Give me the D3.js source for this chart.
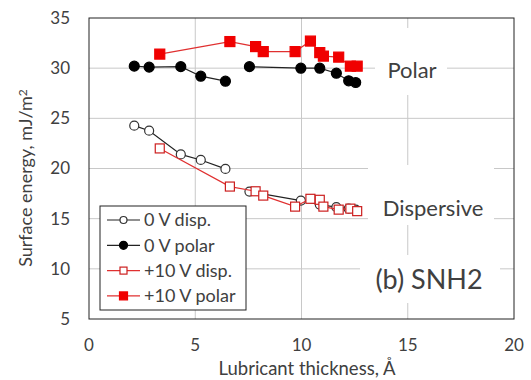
<!doctype html>
<html lang="en">
<head>
<meta charset="utf-8">
<title>Surface energy vs lubricant thickness</title>
<script src="https://cdn.jsdelivr.net/npm/d3@7"></script>
<style>
  body { margin: 0; background: #fff; }
  text { font-family: Lato, "Open Sans", sans-serif; fill: #404040; }
</style>
</head>
<body>
<script>
// thickness (Å); null breaks the line
var x0V = [2.13, 2.83, 4.32, 5.26, 6.42, null, 7.55, 9.97, 10.86, 11.64, 12.22, 12.55];
var disp0V = [24.27, 23.77, 21.4, 20.85, 19.96, null, 17.7, 16.8, 16.4, 16.15, 16.0, 15.9];
var polar0V = [30.2, 30.1, 30.15, 29.2, 28.7, null, 30.15, 30.0, 30.0, 29.5, 28.74, 28.57];

var x10V = [3.33, 6.63, 7.84, 8.2, 9.7, 10.42, 10.86, 11.03, 11.75, 12.3, 12.62];
var disp10V = [22.0, 18.2, 17.73, 17.3, 16.2, 16.98, 16.88, 16.2, 15.9, 16.0, 15.75];
var polar10V = [31.4, 32.65, 32.15, 31.65, 31.65, 32.7, 31.55, 31.2, 31.1, 30.2, 30.2];

var xTicks = [0, 5, 10, 15, 20];
var yTicks = [5, 10, 15, 20, 25, 30, 35];

var W = 531, H = 380;
var plot = {left: 89, right: 514, top: 18, bottom: 319};

var svg = d3.select("body").append("svg")
            .attr("width", W)
            .attr("height", H);

var x = d3.scaleLinear().domain([0, 20]).range([plot.left, plot.right]);
var y = d3.scaleLinear().domain([5, 35]).range([plot.bottom, plot.top]);

// gridlines
svg.append("g").selectAll("line")
   .data(yTicks.slice(1, -1))
   .enter().append("line")
   .attr("x1", plot.left).attr("x2", plot.right)
   .attr("y1", d => y(d)).attr("y2", d => y(d))
   .attr("stroke", "#c8c8c8");
svg.append("g").selectAll("line")
   .data(xTicks.slice(1, -1))
   .enter().append("line")
   .attr("y1", plot.top).attr("y2", plot.bottom)
   .attr("x1", d => x(d)).attr("x2", d => x(d))
   .attr("stroke", "#c8c8c8");

// white boxes behind annotation texts
var boxes = [[375, 28, 72, 67], [368, 165, 126, 60], [360, 255, 140, 48]];
svg.append("g").selectAll("rect")
   .data(boxes)
   .enter().append("rect")
   .attr("x", d => d[0]).attr("y", d => d[1])
   .attr("width", d => d[2]).attr("height", d => d[3])
   .attr("fill", "#fff");

// plot border
svg.append("rect")
   .attr("x", plot.left).attr("y", plot.top)
   .attr("width", plot.right - plot.left)
   .attr("height", plot.bottom - plot.top)
   .attr("fill", "none")
   .attr("stroke", "#222");

// tick labels
svg.append("g").selectAll("text")
   .data(yTicks)
   .enter().append("text")
   .attr("x", 70)
   .attr("y", d => y(d))
   .attr("dy", "0.35em")
   .attr("text-anchor", "end")
   .style("font-size", "17px")
   .text(d => d);
svg.append("g").selectAll("text")
   .data(xTicks)
   .enter().append("text")
   .attr("x", d => x(d))
   .attr("y", 345)
   .attr("dy", "0.35em")
   .attr("text-anchor", "middle")
   .style("font-size", "17px")
   .text(d => d);

// axis titles
svg.append("text")
   .attr("x", 307).attr("y", 369)
   .attr("dy", "0.35em")
   .attr("text-anchor", "middle")
   .style("font-size", "18.5px")
   .text("Lubricant thickness, Å");

var yt = svg.append("text")
   .attr("transform", "translate(26,178) rotate(-90)")
   .attr("dy", "0.35em")
   .attr("text-anchor", "middle")
   .style("font-size", "18px");
yt.append("tspan").text("Surface energy, mJ/m");
yt.append("tspan").attr("dy", "-0.45em").style("font-size", "12px").text("2");

// series
function pts(xs, ys) {
    return xs.map((d, i) => ({x: d, y: ys[i]}));
}
var line = d3.line()
             .defined(d => d.x != null && d.y != null)
             .x(d => x(d.x))
             .y(d => y(d.y));

var series = [
    {name: "0 V disp.", data: pts(x0V, disp0V), line: "#222", shape: "circle", fill: "#fff", stroke: "#333", r: 4.5},
    {name: "0 V polar", data: pts(x0V, polar0V), line: "#222", shape: "circle", fill: "#000", stroke: "#000", r: 5},
    {name: "+10 V disp.", data: pts(x10V, disp10V), line: "#e03030", shape: "square", fill: "#fff", stroke: "#cc1f1f", r: 4.5},
    {name: "+10 V polar", data: pts(x10V, polar10V), line: "#e03030", shape: "square", fill: "#f00000", stroke: "#f00000", r: 5}
];

function drawMarker(g, s, cx, cy) {
    if (s.shape == "circle") {
        g.append("circle")
         .attr("cx", cx).attr("cy", cy).attr("r", s.r)
         .attr("fill", s.fill).attr("stroke", s.stroke).attr("stroke-width", 1.2);
    } else {
        g.append("rect")
         .attr("x", cx - s.r).attr("y", cy - s.r)
         .attr("width", 2 * s.r).attr("height", 2 * s.r)
         .attr("fill", s.fill).attr("stroke", s.stroke).attr("stroke-width", 1.2);
    }
}

series.forEach(function(s) {
    var g = svg.append("g");
    g.append("path")
     .datum(s.data)
     .attr("d", line)
     .attr("fill", "none")
     .attr("stroke", s.line)
     .attr("stroke-width", 1.2);
    s.data.filter(d => d.x != null && d.y != null)
          .forEach(d => drawMarker(g, s, x(d.x), y(d.y)));
});

// annotations
svg.append("text").attr("x", 412).attr("y", 78).attr("text-anchor", "middle")
   .style("font-size", "22px").text("Polar");
svg.append("text").attr("x", 433).attr("y", 216).attr("text-anchor", "middle")
   .style("font-size", "22px").text("Dispersive");
svg.append("text").attr("x", 429).attr("y", 289).attr("text-anchor", "middle")
   .style("font-size", "27px").text("(b) SNH2");

// legend
var lg = svg.append("g");
lg.append("rect")
  .attr("x", 100).attr("y", 206)
  .attr("width", 146).attr("height", 104)
  .attr("fill", "#fff").attr("stroke", "#222");
series.forEach(function(s, i) {
    var ly = 220 + i * 25.3;
    lg.append("line")
      .attr("x1", 107).attr("x2", 140)
      .attr("y1", ly).attr("y2", ly)
      .attr("stroke", s.line).attr("stroke-width", 1.2);
    drawMarker(lg, {shape: s.shape, fill: s.fill, stroke: s.stroke, r: s.r - 1}, 123.5, ly);
    lg.append("text")
      .attr("x", 144).attr("y", ly)
      .attr("dy", "0.35em")
      .style("font-size", "18px")
      .text(s.name);
});
</script>
</body>
</html>
